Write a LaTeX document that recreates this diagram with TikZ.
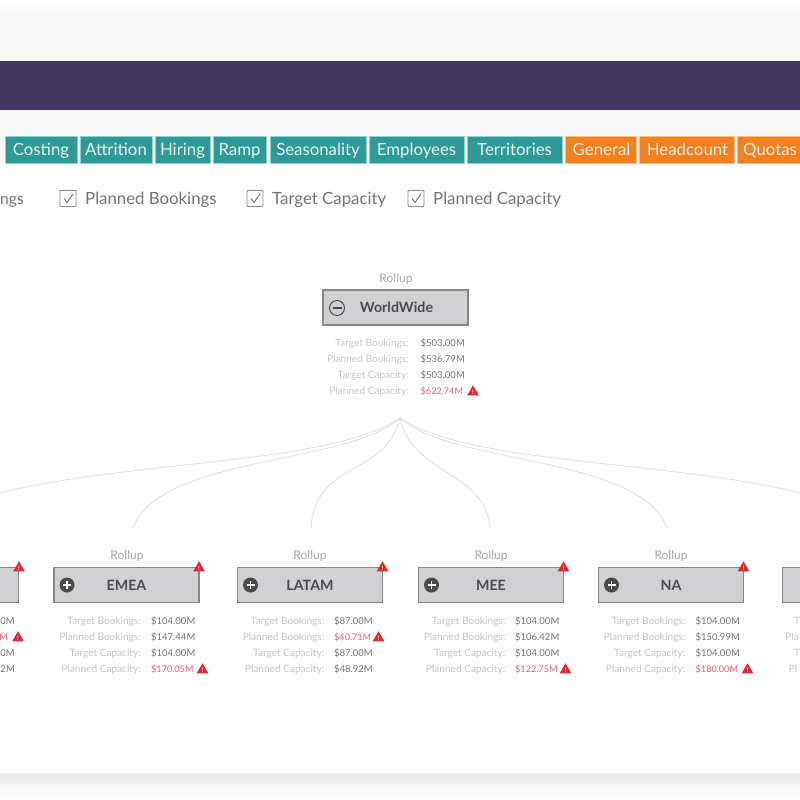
\documentclass[tikz,border=0pt]{standalone}
\usepackage{fontspec}
\setmainfont{Lato}
\usetikzlibrary{shapes.geometric}
\definecolor{purplebar}{HTML}{41375F}
\definecolor{teal1}{HTML}{2E9A98}
\definecolor{teal2}{HTML}{8FD2CE}
\definecolor{orange1}{HTML}{F2801F}
\definecolor{orange2}{HTML}{FAC08A}
\definecolor{boxfill}{HTML}{D1D0D2}
\definecolor{boxline}{HTML}{87878A}
\definecolor{labelc}{HTML}{C6C6CB}
\definecolor{valuec}{HTML}{747478}
\definecolor{redv}{HTML}{EE5F6E}
\definecolor{redw}{HTML}{E2262E}
\definecolor{linkc}{HTML}{E2DEE8}
\definecolor{darkt}{HTML}{4A4A4D}
\tikzset{
  tabteal/.style={draw=teal2,fill=teal1,line width=.8pt},
  taborange/.style={draw=orange2,fill=orange1,line width=.8pt},
  tabtxt/.style={text=white!88!teal1,font=\fontsize{16.8}{18}\selectfont,anchor=base,inner sep=0pt},
  chk/.style={draw=valuec!85!white,line width=.9pt,rounded corners=.8pt,minimum width=16pt,minimum height=16pt,inner sep=0pt},
  chktext/.style={text=valuec,font=\fontsize{16.8}{18}\selectfont,inner sep=0pt,anchor=base west},
  rollbox/.style={draw=boxline,fill=boxfill,line width=1.4pt,minimum width=145pt,minimum height=35pt,inner sep=0pt,text=darkt,font=\fontsize{14.2}{16}\selectfont\bfseries},
  rolltitle/.style={text=labelc!85!black,font=\fontsize{12}{14}\selectfont,inner sep=0pt},
  lab/.style={text=labelc,font=\fontsize{10.1}{11}\selectfont,inner sep=0pt,anchor=base east,yshift=-3.5pt},
  val/.style={text=valuec,font=\fontsize{9.5}{11}\selectfont,inner sep=0pt,anchor=base west,yshift=-3.5pt},
  valr/.style={val,text=redv,font=\fontsize{9.1}{11}\selectfont},
  link/.style={draw=linkc,line width=.8pt},
  warn/.style={regular polygon,regular polygon sides=3,fill=redw,minimum size=13.5pt,inner sep=0pt,text=white,font=\fontsize{6}{6}\selectfont\bfseries},
  plusi/.style={circle,fill=darkt,minimum size=15pt,inner sep=0pt},
}
\newcommand{\warnat}[3]{\node[warn] (#1) at (#2,#3) {!};}
\newcommand{\stats}[3]{%
  \node[lab] (#1la) at (#2+87,#3) {Target Bookings:};
  \node[lab] (#1lb) at (#2+87,#3+16) {Planned Bookings:};
  \node[lab] (#1lc) at (#2+87,#3+32) {Target Capacity:};
  \node[lab] (#1ld) at (#2+87,#3+48) {Planned Capacity:};
}
\newcommand{\childbox}[4]{%
  \node[rolltitle] (#1t) at (#4,556) {Rollup};
  \node[rollbox] (#1) at (#2+72.5,585) {#3};
  \node[plusi] (#1i) at (#2+13,585) {};
  \draw[white,line width=1.3pt] (#2+9,585) -- (#2+17,585) (#2+13,581) -- (#2+13,589);
  \warnat{#1w}{#2+145}{568}
  \stats{#1}{#2}{621}
}
\begin{document}
\begin{tikzpicture}[x=1pt,y=-1pt]
\useasboundingbox (0,0) rectangle (800,800);
\clip (0,0) rectangle (800,800);
\fill[white] (0,0) rectangle (800,800);
\shade[top color=white,bottom color=black!3] (0,0) rectangle (800,18);
\fill[black!3] (0,18) rectangle (800,61);
\fill[purplebar] (0,61) rectangle (800,110);
\shade[top color=black!4,bottom color=white] (0,110) rectangle (800,170);
\shade[top color=black!8,bottom color=white] (0,773) rectangle (800,800);
% tabs
\foreach \nm/\xa/\xb/\tx in {tb1/5/77/Costing,tb2/80/152/Attrition,tb3/155/210/Hiring,tb4/213/266/Ramp,tb5/270/366/Seasonality,tb6/369/464/Employees,tb7/467/562/Territories}{
  \path[tabteal] (\xa,136) rectangle (\xb,163);
  \node[tabtxt] (\nm) at ({(\xa+\xb)/2},155) {\tx};
}
\foreach \nm/\xa/\xb/\tx in {tb8/565/636/General,tb9/639/734/Headcount}{
  \path[taborange] (\xa,136) rectangle (\xb,163);
  \node[tabtxt,text=white!85!orange1] (\nm) at ({(\xa+\xb)/2+1},155) {\tx};
}
\path[taborange] (737,136) rectangle (804,163);
\node[tabtxt,text=white!85!orange1,anchor=base west] (tb10) at (743,155) {Quotas};
% check row
\node[chktext,font=\fontsize{15.6}{18}\selectfont,anchor=base east] (c0) at (24,204) {ngs};
\foreach \nm/\bx/\tx in {c1/60/Planned Bookings,c2/247/Target Capacity,c3/408/Planned Capacity}{
  \node[chk] (\nm b) at (\bx+8,198.5) {};
  \draw[valuec,line width=1pt] (\bx+4,198.5) -- (\bx+7,202.5) -- (\bx+13,194);
  \node[chktext] (\nm) at (\bx+25,204) {\tx};
}
% connectors
\coordinate (root) at (400,418);
\coordinate (e1) at (0,493);
\coordinate (e2) at (133,528);
\coordinate (e3) at (311,528);
\coordinate (e4) at (490,528);
\coordinate (e5) at (667,528);
\coordinate (e6) at (800,493);
\draw[link] (root) .. controls (330,465) and (130,460) .. (e1);
\draw[link] (root) .. controls (350,465) and (160,455) .. (e2);
\draw[link] (root) .. controls (385,478) and (315,460) .. (e3);
\draw[link] (root) .. controls (412,475) and (485,470) .. (e4);
\draw[link] (root) .. controls (450,465) and (640,455) .. (e5);
\draw[link] (root) .. controls (470,465) and (670,460) .. (e6);
% root node
\node[rolltitle] (wwt) at (396,279) {Rollup};
\node[rollbox] (ww) at (395.5,307.5) {\hspace*{2pt}WorldWide};
\node[circle,draw=darkt,line width=1pt,minimum size=15pt,inner sep=0pt] (wwi) at (337,308) {};
\draw[darkt,line width=1.2pt] (332.5,308) -- (341.5,308);
\stats{w}{322}{343}
\node[val] (wva) at (420.5,343) {\$503.00M};
\node[val] (wvb) at (420.5,359) {\$536.79M};
\node[val] (wvc) at (420.5,375) {\$503.00M};
\node[valr] (wvd) at (420.5,391) {\$622.74M};
\warnat{wwarn}{473}{392}
% left partial node
\node[rollbox,anchor=east] (x0) at (19,585) {};
\warnat{x0w}{19}{568}
\node[val,anchor=base east] (x0a) at (15,621) {0M};
\node[valr,anchor=base east] (x0b) at (8,637) {M};
\node[val,anchor=base east] (x0c) at (15,653) {0M};
\node[val,anchor=base west] (x0d) at (0.3,669) {2M};
\warnat{x0x}{18}{638}
% EMEA
\childbox{emea}{54}{EMEA}{127}
\node[val] at (151,621) {\$104.00M};
\node[val] at (151,637) {\$147.44M};
\node[val] at (151,653) {\$104.00M};
\node[valr] at (151,669) {\$170.05M};
\warnat{emx}{202.5}{670}
% LATAM
\childbox{latam}{237.5}{LATAM}{310}
\node[val] at (334,621) {\$87.00M};
\node[valr] at (334,637) {\$40.71M};
\node[val] at (334,653) {\$87.00M};
\node[val] at (334,669) {\$48.92M};
\warnat{lax}{378.5}{638}
% MEE
\childbox{mee}{418.5}{MEE}{491}
\node[val] at (515,621) {\$104.00M};
\node[val] at (515,637) {\$106.42M};
\node[val] at (515,653) {\$104.00M};
\node[valr] at (515,669) {\$122.75M};
\warnat{mex}{565.5}{670}
% NA
\childbox{na}{598.5}{NA}{671}
\node[val] at (695.5,621) {\$104.00M};
\node[val] at (695.5,637) {\$150.99M};
\node[val] at (695.5,653) {\$104.00M};
\node[valr] at (695.5,669) {\$180.00M};
\warnat{nax}{747.5}{670}
% right partial node
\node[rollbox,anchor=west] (x9) at (782,585) {};
\node[lab,anchor=base west] (x9a) at (794,621) {T};
\node[lab,anchor=base west] (x9b) at (785,637) {Pla};
\node[lab,anchor=base west] (x9c) at (794,653) {T};
\node[lab,anchor=base west] (x9d) at (788.5,669) {Pl};
\end{tikzpicture}
\end{document}
